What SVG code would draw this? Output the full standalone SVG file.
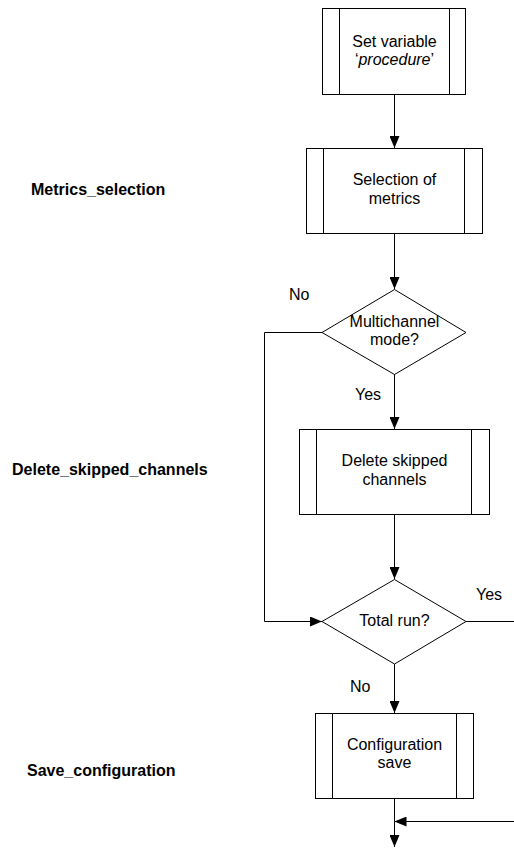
<svg xmlns="http://www.w3.org/2000/svg" width="514" height="856" viewBox="0 0 514 856">
<style>
.shape{fill:#fff;stroke:#000;stroke-width:1}
.ln{fill:none;stroke:#000;stroke-width:1}
.t{font-family:"Liberation Sans",Arial,sans-serif;font-size:16px;fill:#000;text-anchor:middle}
.lbl{font-family:"Liberation Sans",Arial,sans-serif;font-size:16px;fill:#000}
.side{font-family:"Liberation Sans",Arial,sans-serif;font-size:16px;font-weight:bold;fill:#000}
</style>
<defs>
<marker id="arr" markerUnits="userSpaceOnUse" markerWidth="12" markerHeight="10" refX="12" refY="5" orient="auto">
<path d="M0,0 L12,5 L0,10 Z" fill="#000"/>
</marker>
</defs>
<rect width="514" height="856" fill="#fff"/>
<g id="connectors">
<path class="ln" d="M394.5,94 V148" marker-end="url(#arr)"/>
<path class="ln" d="M394.5,233 V289" marker-end="url(#arr)"/>
<path class="ln" d="M394.5,374 V429" marker-end="url(#arr)"/>
<path class="ln" d="M322,332.5 H264.5 V621.5 H322" marker-end="url(#arr)"/>
<path class="ln" d="M394.5,515 V579" marker-end="url(#arr)"/>
<path class="ln" d="M466,621.5 H514"/>
<path class="ln" d="M394.5,664 V713" marker-end="url(#arr)"/>
<path class="ln" d="M394.5,798 V847" marker-end="url(#arr)"/>
<path class="ln" d="M514,821.5 H394.5" marker-end="url(#arr)"/>
</g>
<g id="set_variable">
<rect class="shape" x="322.5" y="8.5" width="143" height="86"/>
<path class="ln" d="M339.5,8.5 V94.5 M449.5,8.5 V94.5"/>
<text class="t" x="394.5" y="47">Set variable</text>
<text class="t" x="394.5" y="65">‘<tspan font-style="italic">procedure</tspan>’</text>
</g>
<g id="selection_metrics">
<rect class="shape" x="306.5" y="148.5" width="176" height="85"/>
<path class="ln" d="M323.5,148.5 V233.5 M464.5,148.5 V233.5"/>
<text class="t" x="394.5" y="185">Selection of</text>
<text class="t" x="394.5" y="204">metrics</text>
</g>
<g id="multichannel">
<polygon class="shape" points="394.5,289.5 466,332.5 394.5,374.5 322,332.5"/>
<text class="t" x="394.5" y="327">Multichannel</text>
<text class="t" x="394.5" y="345">mode?</text>
</g>
<g id="delete_skipped">
<rect class="shape" x="299.5" y="429.5" width="190" height="85"/>
<path class="ln" d="M316.5,429.5 V514.5 M471.5,429.5 V514.5"/>
<text class="t" x="394.5" y="466">Delete skipped</text>
<text class="t" x="394.5" y="485">channels</text>
</g>
<g id="total_run">
<polygon class="shape" points="394.5,579.5 466,621.5 394.5,664 322,621.5"/>
<text class="t" x="394.5" y="626">Total run?</text>
</g>
<g id="config_save">
<rect class="shape" x="315.5" y="713.5" width="158" height="85"/>
<path class="ln" d="M332.5,713.5 V798.5 M456.5,713.5 V798.5"/>
<text class="t" x="394.5" y="750">Configuration</text>
<text class="t" x="394.5" y="768">save</text>
</g>
<g id="labels">
<text class="lbl" x="289" y="300">No</text>
<text class="lbl" x="355" y="400">Yes</text>
<text class="lbl" x="476" y="600">Yes</text>
<text class="lbl" x="350" y="692">No</text>
<text class="side" x="31" y="195">Metrics_selection</text>
<text class="side" x="12" y="475">Delete_skipped_channels</text>
<text class="side" x="27" y="776">Save_configuration</text>
</g>
</svg>
